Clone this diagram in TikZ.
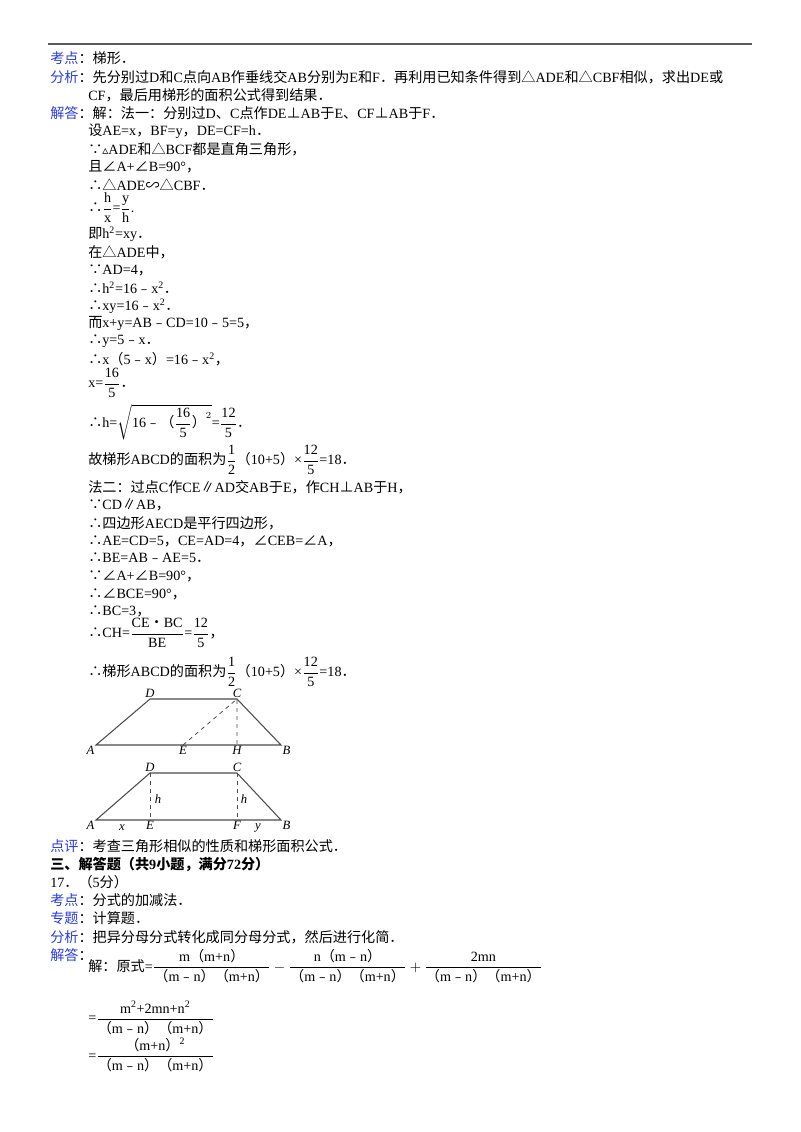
\documentclass[tikz,border=0pt]{standalone}
\usepackage{amsmath}
\usepackage{fontspec}
\setmainfont{Liberation Serif}
\newfontfamily\cjk{Noto Sans CJK SC}
\newfontfamily\djvfont{DejaVu Sans}
\XeTeXinterchartokenstate=1
\newXeTeXintercharclass\cjkclass
\makeatletter
\count@="4E00 \loop\XeTeXcharclass\count@=\cjkclass \ifnum\count@<"9FFF \advance\count@ 1 \repeat
\count@="3000 \loop\XeTeXcharclass\count@=\cjkclass \ifnum\count@<"303F \advance\count@ 1 \repeat
\count@="FF00 \loop\XeTeXcharclass\count@=\cjkclass \ifnum\count@<"FF60 \advance\count@ 1 \repeat
\count@="FE50 \loop\XeTeXcharclass\count@=\cjkclass \ifnum\count@<"FE6F \advance\count@ 1 \repeat
\makeatother
\XeTeXcharclass"2234=\cjkclass \XeTeXcharclass"2235=\cjkclass \XeTeXcharclass"25B3=\cjkclass
\XeTeXcharclass"22A5=\cjkclass \XeTeXcharclass"2220=\cjkclass \XeTeXcharclass"223D=\cjkclass
\XeTeXcharclass"2225=\cjkclass \XeTeXcharclass"2022=\cjkclass
\XeTeXinterchartoks 0 \cjkclass={\begingroup\cjk}
\XeTeXinterchartoks 4095 \cjkclass={\begingroup\cjk}
\XeTeXinterchartoks \cjkclass 0={\endgroup}
\XeTeXinterchartoks \cjkclass 4095={\endgroup}
\definecolor{lab}{RGB}{40,60,230}
\newcommand\T[3]{\node[txt] at (#1,#2) {#3};}
\newcommand\fr[2]{\dfrac{\mbox{#1}}{\mbox{#2}}}
\begin{document}
\begin{tikzpicture}[x=0.75pt,y=-0.75pt,
 txt/.style={anchor=west,inner sep=0pt,font=\fontsize{10.6}{12}\selectfont},
 fig/.style={line width=0.8pt,gray!60!black},
 dsh/.style={dashed,line width=0.6pt,gray!60!black},
 pl/.style={inner sep=1pt,font=\fontsize{9.5}{11}\itshape}]
\useasboundingbox (0,0) rectangle (800,1132);
\draw[line width=1pt,gray!70!black] (48,44) -- (752,44);
\T{50}{58}{\textcolor{lab}{考点}：梯形．}
\T{50}{77}{\textcolor{lab}{分析}：先分别过D和C点向AB作垂线交AB分别为E和F．再利用已知条件得到△ADE和△CBF相似，求出DE或}
\T{88}{95}{CF，最后用梯形的面积公式得到结果．}
\T{50}{113}{\textcolor{lab}{解答}：解：法一：分别过D、C点作DE⊥AB于E、CF⊥AB于F．}
\T{88}{131}{设AE=x，BF=y，DE=CF=h．}
\T{88}{149}{∵{\djvfont\small▵}ADE和△BCF都是直角三角形，}
\T{88}{167}{且∠A+∠B=90°，}
\T{88}{185}{∴△ADE∽△CBF．}
\T{88}{208}{∴$\fr{h}{x}$=$\fr{y}{h}$.}
\T{88}{234}{即h\textsuperscript{2}=xy．}
\T{88}{252}{在△ADE中，}
\T{88}{270}{∵AD=4，}
\T{88}{288}{∴h\textsuperscript{2}=16﹣x\textsuperscript{2}．}
\T{88}{306}{∴xy=16﹣x\textsuperscript{2}．}
\T{88}{323}{而x+y=AB﹣CD=10﹣5=5，}
\T{88}{341}{∴y=5﹣x．}
\T{88}{359}{∴x（5﹣x）=16﹣x\textsuperscript{2}，}
\T{88}{383}{x=$\fr{16}{5}$．}
\T{88}{422}{∴h=$\sqrt{\mbox{16﹣（}\fr{16}{5}\mbox{）}^{2}}$=$\fr{12}{5}$．}
\T{88}{460}{故梯形ABCD的面积为$\fr{1}{2}$（10+5）×$\fr{12}{5}$=18．}
\T{88}{487}{法二：过点C作CE∥AD交AB于E，作CH⊥AB于H，}
\T{88}{505}{∵CD∥AB，}
\T{88}{523}{∴四边形AECD是平行四边形，}
\T{88}{541}{∴AE=CD=5，CE=AD=4，∠CEB=∠A，}
\T{88}{558}{∴BE=AB﹣AE=5．}
\T{88}{576}{∵∠A+∠B=90°，}
\T{88}{594}{∴∠BCE=90°，}
\T{88}{611}{∴BC=3，}
\T{88}{633}{∴CH=$\fr{CE•BC}{BE}$=$\fr{12}{5}$，}
\T{88}{672}{∴梯形ABCD的面积为$\fr{1}{2}$（10+5）×$\fr{12}{5}$=18．}
% figure 1
\coordinate (A1) at (96,745); \coordinate (B1) at (281,745);
\coordinate (C1) at (237,699); \coordinate (D1) at (150,699);
\coordinate (E1) at (183,745); \coordinate (H1) at (237,745);
\draw[fig] (A1)--(D1)--(C1)--(B1)--cycle;
\draw[dsh] (E1)--(C1)--(H1);
\node[pl,above] at (D1) {D}; \node[pl,above] at (C1) {C};
\node[pl,below left] at (A1) {A}; \node[pl,below] at (E1) {E};
\node[pl,below] at (H1) {H}; \node[pl,below right] at (B1) {B};
% figure 2
\coordinate (A2) at (96,820); \coordinate (B2) at (281,820);
\coordinate (C2) at (237,773); \coordinate (D2) at (150,773);
\coordinate (E2) at (150,820); \coordinate (F2) at (237,820);
\draw[fig] (A2)--(D2)--(C2)--(B2)--cycle;
\draw[dsh] (D2)--(E2) (C2)--(F2);
\node[pl,above] at (D2) {D}; \node[pl,above] at (C2) {C};
\node[pl,below left] at (A2) {A}; \node[pl,below] at (E2) {E};
\node[pl,below] at (F2) {F}; \node[pl,below right] at (B2) {B};
\node[pl] at (158,799) {h}; \node[pl] at (244,799) {h};
\node[pl] at (122,828) {x}; \node[pl] at (258,828) {y};
\T{50}{846}{\textcolor{lab}{点评}：考查三角形相似的性质和梯形面积公式．}
\T{50}{864}{\bfseries 三、解答题（共9小题，满分72分）}
\T{50}{882}{17．（5分）}
\T{50}{900}{\textcolor{lab}{考点}：分式的加减法．}
\T{50}{918}{\textcolor{lab}{专题}：计算题．}
\T{50}{937}{\textcolor{lab}{分析}：把异分母分式转化成同分母分式，然后进行化简．}
\T{50}{955}{\textcolor{lab}{解答}：}
\T{88}{966}{解：原式=$\fr{m（m+n）}{（m﹣n）（m+n）}-\fr{n（m﹣n）}{（m﹣n）（m+n）}+\fr{2mn}{（m﹣n）（m+n）}$}
\T{88}{1018}{=$\fr{m\textsuperscript{2}+2mn+n\textsuperscript{2}}{（m﹣n）（m+n）}$}
\T{88}{1055}{=$\fr{（m+n）\textsuperscript{2}}{（m﹣n）（m+n）}$}
\end{tikzpicture}
\end{document}
